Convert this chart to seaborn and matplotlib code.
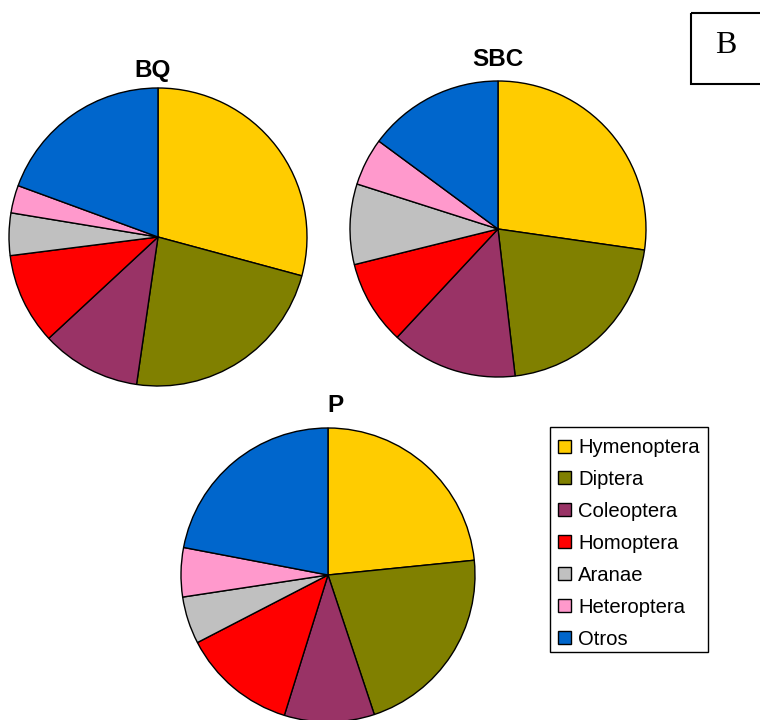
import matplotlib
matplotlib.use("Agg")
import matplotlib.pyplot as plt
from matplotlib.patches import Rectangle
import seaborn as sns

sns.set_style("white")
plt.rcParams["font.family"] = ["Liberation Sans", "DejaVu Sans"]

# Insect orders (percent of individuals captured at each site)
categories = ["Hymenoptera", "Diptera", "Coleoptera", "Homoptera",
              "Aranae", "Heteroptera", "Otros"]
hex_colors = ["#FFCC00", "#808000", "#993366", "#FF0000",
              "#C0C0C0", "#FF99CC", "#0066CC"]
sites = ["BQ", "SBC", "P"]
bq_values = [29.2, 23.1, 10.8, 9.9, 4.6, 3.0, 19.4]
sbc_values = [27.3, 20.9, 13.8, 9.2, 8.8, 5.2, 14.9]
p_values = [23.4, 21.5, 9.9, 12.6, 5.2, 5.4, 22.0]
panel_letter = "B"

palette = sns.color_palette(hex_colors)

W, H = 760, 720
fig = plt.figure(figsize=(W / 100, H / 100), dpi=100)
fig.patch.set_facecolor("white")

# full-figure overlay in pixel coordinates for titles, legend and panel tag
ov = fig.add_axes([0, 0, 1, 1])
ov.set_xlim(0, W)
ov.set_ylim(H, 0)
ov.axis("off")


def pie_axes(cx, cy, r):
    ax = fig.add_axes([(cx - r) / W, (H - cy - r) / H, 2 * r / W, 2 * r / H])
    ax.axis("off")
    return ax


layout = {
    "BQ": dict(center=(158, 237), r=149, title=(153, 76.5)),
    "SBC": dict(center=(498, 229), r=148, title=(498, 66.5)),
    "P": dict(center=(328, 575), r=147, title=(335, 411.5)),
}
series = {"BQ": bq_values, "SBC": sbc_values, "P": p_values}

for site in sites:
    spec = layout[site]
    ax = pie_axes(*spec["center"], spec["r"])
    wedges, _ = ax.pie(series[site], colors=palette, startangle=90,
                       counterclock=False, radius=1,
                       wedgeprops=dict(edgecolor="black", linewidth=1.0))
    for w in wedges:
        w.set_clip_on(False)
    ax.set_xlim(-1, 1)
    ax.set_ylim(-1, 1)
    ax.set_aspect("equal")
    tx, ty = spec["title"]
    ov.text(tx, ty, site, ha="center", va="baseline",
            fontsize=17.5, fontweight="bold", color="black")

# legend
ov.add_patch(Rectangle((550, 427), 158, 225, facecolor="white",
                       edgecolor="black", linewidth=1.0))
for i, (name, col) in enumerate(zip(categories, palette)):
    yc = 446 + i * 31.9
    ov.add_patch(Rectangle((558, yc - 6.5), 13, 13, facecolor=col,
                           edgecolor="black", linewidth=1.0))
    ov.text(578, yc + 7.3, name, ha="left", va="baseline",
            fontsize=14.6, color="black")

# panel tag
ov.add_patch(Rectangle((691, 12.5), 120, 71.5, facecolor="none",
                       edgecolor="black", linewidth=1.5))
ov.text(726, 53.3, panel_letter, ha="center", va="baseline", fontsize=23,
        family=["Liberation Serif", "DejaVu Serif"], color="black")

fig.savefig("out.png", dpi=100, facecolor="white")
